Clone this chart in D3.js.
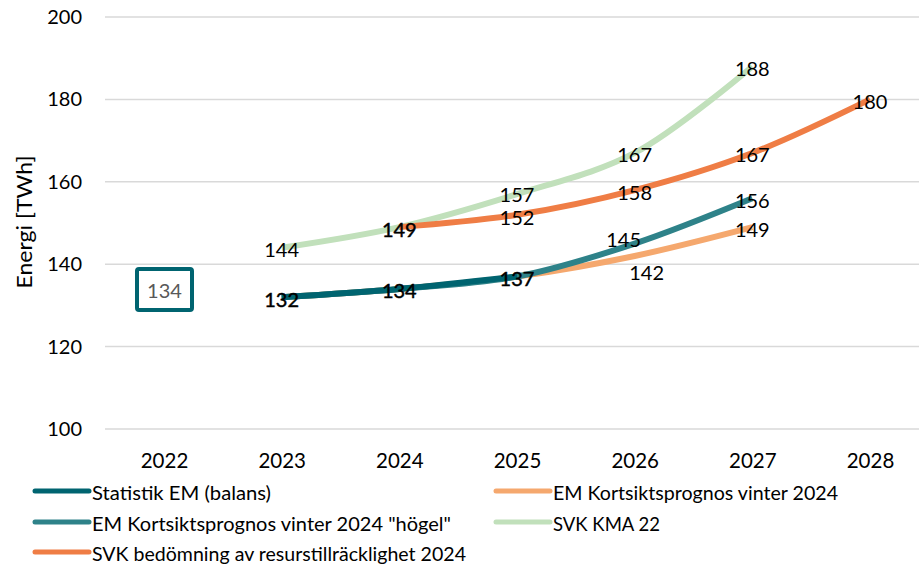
<!DOCTYPE html>
<html>
<head>
<meta charset="utf-8">
<script src="https://cdn.jsdelivr.net/npm/d3@7"></script>
<style>
  html, body { margin: 0; padding: 0; background: #ffffff; }
  svg { display: block; }
  text { font-family: Lato, "Open Sans", "Liberation Sans", sans-serif; }
</style>
</head>
<body>
<svg id="chart" width="919" height="564"></svg>
<script>
// ---- data ----
const years = [2022, 2023, 2024, 2025, 2026, 2027, 2028];
const yTicks = [100, 120, 140, 160, 180, 200];

const seriesNames = [
  "Statistik EM (balans)",
  "EM Kortsiktsprognos vinter 2024",
  "EM Kortsiktsprognos vinter 2024 \"högel\"",
  "SVK KMA 22",
  "SVK bedömning av resurstillräcklighet 2024"
];

// values aligned with years (null = no value)
const statistikEM   = [null, 132, 134, 137, null, null, null];
const emPrognos     = [null, 132, 134, 137, 142, 149, null];
const emHogel       = [null, 132, 134, 137, 145, 156, null];
const svkKMA22      = [null, 144, 149, 157, 167, 188, null];
const svkBedomning  = [null, null, 149, 152, 158, 167, 180];

// boxed annotation for 2022
const annotationYear = 2022;
const annotationValue = 134;

// ---- styling ----
const colors = ["#006470", "#f5a86e", "#2e8289", "#c1e0bb", "#ef7d45"];
const seriesValues = [statistikEM, emPrognos, emHogel, svkKMA22, svkBedomning];
const drawOrder = [3, 4, 1, 2, 0];
// label offsets [dx, dy] keyed "seriesIndex-year"
const labelOffsets = {
  "1-2026": [12, 14.5],
  "2-2026": [-11, -6.5],
  "3-2025": [0, -1.5],
  "4-2025": [0, 1]
};

const svg = d3.select("#chart");

const x = d3.scalePoint().domain(years).range([164, 870]);
const y = d3.scaleLinear().domain([100, 200]).range([429, 17]);

// gridlines
svg.append("g").selectAll("line").data(yTicks).join("line")
  .attr("x1", 105).attr("x2", 919)
  .attr("y1", d => y(d)).attr("y2", d => y(d))
  .attr("stroke", "#d9d9d9").attr("stroke-width", 1.5);

// y axis
const yAxis = d3.axisLeft(y).tickValues(yTicks).tickSize(0).tickPadding(0);
svg.append("g").attr("transform", "translate(82,0)").call(yAxis)
  .call(g => g.select(".domain").remove())
  .call(g => g.selectAll("text").attr("font-size", 20).attr("fill", "#000")
    .attr("font-family", "Lato, 'Open Sans', sans-serif"));

// x axis
const xAxis = d3.axisBottom(x).tickSize(0).tickPadding(0).tickFormat(d3.format("d"));
svg.append("g").attr("transform", "translate(0,453)").call(xAxis)
  .call(g => g.select(".domain").remove())
  .call(g => g.selectAll("text").attr("font-size", 20.5).attr("fill", "#000")
    .attr("font-family", "Lato, 'Open Sans', sans-serif"));

// y title
svg.append("text")
  .attr("transform", "translate(32,222) rotate(-90)")
  .attr("text-anchor", "middle")
  .attr("font-size", 21.5)
  .attr("fill", "#000")
  .attr("textLength", 133)
  .attr("lengthAdjust", "spacingAndGlyphs")
  .text("Energi [TWh]");

// lines
const line = d3.line()
  .defined(d => d.v != null)
  .x(d => x(d.year)).y(d => y(d.v))
  .curve(d3.curveCatmullRom.alpha(0.5));

drawOrder.forEach(i => {
  const pts = years.map((yr, k) => ({ year: yr, v: seriesValues[i][k] }));
  svg.append("path")
    .datum(pts)
    .attr("d", line)
    .attr("fill", "none")
    .attr("stroke", colors[i])
    .attr("stroke-width", 6)
    .attr("stroke-linejoin", "round")
    .attr("stroke-linecap", "butt");
});

// data labels
const seen = {};
const labels = [];
[0, 1, 2, 3, 4].forEach(i => {
  years.forEach((yr, k) => {
    const v = seriesValues[i][k];
    if (v == null) return;
    const key = yr + "-" + v;
    if (seen[key]) { seen[key].dup = true; return; }
    const off = labelOffsets[i + "-" + yr] || [0, 0];
    const lab = { year: yr, v, dx: off[0], dy: off[1], dup: false };
    seen[key] = lab;
    labels.push(lab);
  });
});
svg.append("g").selectAll("text").data(labels).join("text")
  .attr("x", d => x(d.year) + d.dx)
  .attr("y", d => y(d.v) + d.dy + 1.5)
  .attr("text-anchor", "middle")
  .attr("dominant-baseline", "central")
  .attr("font-size", 20)
  .attr("fill", "#000")
  .attr("stroke", d => d.dup ? "#000" : "none")
  .attr("stroke-width", 0.45)
  .text(d => d.v);

// boxed annotation
const ax = x(annotationYear), ay = y(annotationValue);
svg.append("rect")
  .attr("x", ax - 27).attr("y", ay - 20)
  .attr("width", 55).attr("height", 41)
  .attr("rx", 2)
  .attr("fill", "#fff")
  .attr("stroke", "#006470").attr("stroke-width", 4);
svg.append("text")
  .attr("x", ax + 0.5).attr("y", ay + 1.5)
  .attr("text-anchor", "middle")
  .attr("dominant-baseline", "central")
  .attr("font-size", 20)
  .attr("fill", "#595959")
  .text(annotationValue);

// legend
const legendPos = [
  { x: 33, y: 491, w: 179 },
  { x: 494, y: 491, w: 285 },
  { x: 33, y: 522, w: 359 },
  { x: 494, y: 522, w: 107 },
  { x: 33, y: 552, w: 374 }
];
const lg = svg.append("g").selectAll("g").data(seriesNames).join("g")
  .attr("transform", (d, i) => `translate(${legendPos[i].x},${legendPos[i].y})`);
lg.append("line")
  .attr("x1", 2).attr("x2", 56).attr("y1", 0).attr("y2", 0)
  .attr("stroke", (d, i) => colors[i]).attr("stroke-width", 5)
  .attr("stroke-linecap", "round");
lg.append("text")
  .attr("x", 59).attr("y", 1)
  .attr("dominant-baseline", "central")
  .attr("font-size", 19.5)
  .attr("fill", "#000")
  .attr("textLength", (d, i) => legendPos[i].w)
  .attr("lengthAdjust", "spacingAndGlyphs")
  .text(d => d);
</script>
</body>
</html>
